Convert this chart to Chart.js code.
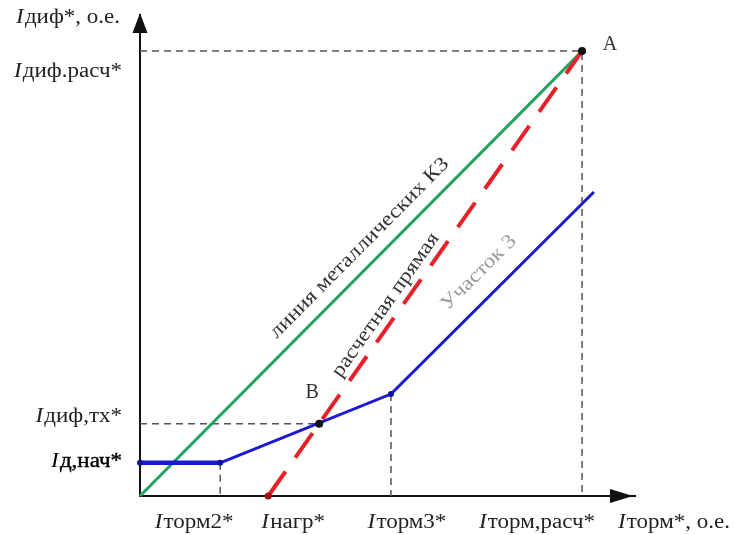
<!DOCTYPE html>
<html>
<head>
<meta charset="utf-8">
<script src="https://cdn.jsdelivr.net/npm/chart.js@4"></script>
<style>
  html, body { margin: 0; padding: 0; background: #fff; }
  #wrap { width: 733px; height: 535px; }
</style>
</head>
<body>
<div id="wrap"><canvas id="chart" width="733" height="535"></canvas></div>
<script>
// значения в о.е. (оси 0..10)
const xTickValues = [1.62, 2.59, 5.07, 8.93];
const xTickLabels = ['Iторм2*', 'Iнагр*', 'Iторм3*', 'Iторм,расч*'];
const yTickValues = [9.25, 1.50, 0.69];
const yTickLabels = ['Iдиф.расч*', 'Iдиф,тх*', 'Iд,нач*'];
const xAxisTitle = 'Iторм*, о.е.';
const yAxisTitle = 'Iдиф*, о.е.';

const pointA = [8.93, 9.25];
const pointB = [3.62, 1.50];

const kzX = [0, 8.93];            // линия металлических КЗ
const kzY = [0, 9.25];
const calcX = [2.59, 8.93];       // расчетная прямая
const calcY = [0, 9.25];
const charX = [0, 1.62, 5.07, 9.17];  // характеристика срабатывания
const charY = [0.69, 0.69, 2.12, 6.32];

const SERIF = "'Liberation Serif', 'Times New Roman', serif";
const FS = 20;
const STRETCH = 1.15;   // шрифт в оригинале чуть растянут по ширине

const xy = (xs, ys) => xs.map((x, i) => ({ x: x, y: ys[i] }));

function dashed(points) {
    return {
        data: points, showLine: true, borderColor: '#555', borderWidth: 1.5,
        borderDash: [7, 5], pointRadius: 0, clip: false, order: 10
    };
}

// подпись с курсивной первой буквой "I"
function drawLabel(ctx, text, x, y, align, size, color, heavy) {
    const it = 'italic ' + size + 'px ' + SERIF;
    const rg = size + 'px ' + SERIF;
    ctx.font = it;
    const w1 = ctx.measureText(text[0]).width;
    ctx.font = rg;
    const w2 = ctx.measureText(text.slice(1)).width;
    const w = (w1 + w2 + 1) * STRETCH;
    let x0 = x;
    if (align === 'center') x0 = x - w / 2;
    if (align === 'right') x0 = x - w;
    ctx.save();
    ctx.translate(x0, y);
    ctx.scale(STRETCH, 1);
    ctx.fillStyle = color || '#222';
    ctx.strokeStyle = color || '#222';
    ctx.lineWidth = 0.4;
    ctx.textAlign = 'left';
    ctx.textBaseline = 'middle';
    ctx.font = it;
    ctx.fillText(text[0], 0, 0);
    ctx.font = rg;
    ctx.fillText(text.slice(1), w1 + 1, 0);
    if (heavy) ctx.strokeText(text.slice(1), w1 + 1, 0);
    ctx.restore();
}

function drawAlong(c, text, xs, ys, t, off, color, size) {
    const ctx = c.ctx;
    const sx = c.scales.x, sy = c.scales.y;
    const x1 = sx.getPixelForValue(xs[0]), y1 = sy.getPixelForValue(ys[0]);
    const x2 = sx.getPixelForValue(xs[xs.length - 1]), y2 = sy.getPixelForValue(ys[ys.length - 1]);
    const ang = Math.atan2(y2 - y1, x2 - x1);
    ctx.save();
    ctx.translate(x1 + (x2 - x1) * t, y1 + (y2 - y1) * t);
    ctx.rotate(ang);
    ctx.translate(0, -off);
    ctx.scale(STRETCH, 1);
    ctx.font = size + 'px ' + SERIF;
    ctx.fillStyle = color;
    ctx.textAlign = 'center';
    ctx.textBaseline = 'middle';
    ctx.fillText(text, 0, 0);
    ctx.restore();
}

const labelsPlugin = {
    id: 'labels',
    afterDraw(c) {
        const ctx = c.ctx;
        const sx = c.scales.x, sy = c.scales.y;
        const area = c.chartArea;
        ctx.save();

        // стрелки осей
        ctx.fillStyle = '#111';
        ctx.beginPath();
        ctx.moveTo(area.left, area.top - 2);
        ctx.lineTo(area.left - 7.5, area.top + 18);
        ctx.lineTo(area.left + 7.5, area.top + 18);
        ctx.closePath();
        ctx.fill();
        ctx.beginPath();
        ctx.moveTo(area.right - 2, area.bottom);
        ctx.lineTo(area.right - 25, area.bottom - 7);
        ctx.lineTo(area.right - 25, area.bottom + 7);
        ctx.closePath();
        ctx.fill();

        // подписи по оси X
        const xShift = [-26, 25, 16, -45];
        xTickValues.forEach((v, i) => {
            drawLabel(ctx, xTickLabels[i], sx.getPixelForValue(v) + xShift[i], area.bottom + 27, 'center', FS);
        });
        drawLabel(ctx, xAxisTitle, area.right - 17, area.bottom + 27, 'left', FS);

        // подписи по оси Y
        const yShift = [21, -7, -1];
        yTickValues.forEach((v, i) => {
            const last = i === yTickValues.length - 1;
            drawLabel(ctx, yTickLabels[i], area.left - 18, sy.getPixelForValue(v) + yShift[i], 'right',
                FS, last ? '#000' : '#222', last);
        });
        drawLabel(ctx, yAxisTitle, area.left - 20, area.top + 3, 'right', FS);

        // точки A и B
        ctx.font = FS + 'px ' + SERIF;
        ctx.fillStyle = '#333';
        ctx.textAlign = 'center';
        ctx.textBaseline = 'middle';
        ctx.fillText('A', sx.getPixelForValue(pointA[0]) + 28, sy.getPixelForValue(pointA[1]) - 6);
        ctx.fillText('B', sx.getPixelForValue(pointB[0]) - 7, sy.getPixelForValue(pointB[1]) - 31);

        // наклонные надписи
        drawAlong(c, 'линия металлических КЗ', kzX, kzY, 0.527, 19, '#333', FS);
        drawAlong(c, 'расчетная прямая', calcX, calcY, 0.411, 14, '#333', FS);
        drawAlong(c, 'Участок 3', charX.slice(2), charY.slice(2), 0.516, 24, '#999', FS);

        ctx.restore();
    }
};

const chart = new Chart(document.getElementById('chart').getContext('2d'), {
    type: 'scatter',
    data: {
        datasets: [
            // точки
            { data: [{ x: pointA[0], y: pointA[1] }, { x: pointB[0], y: pointB[1] }],
              pointRadius: 4, pointBackgroundColor: '#111', pointBorderWidth: 0, clip: false, order: 0 },
            { data: xy(charX.slice(0, 3), charY.slice(0, 3)),
              pointRadius: 3, pointBackgroundColor: '#1010a0', pointBorderWidth: 0, clip: false, order: 0 },
            { data: [{ x: calcX[0], y: calcY[0] }],
              pointRadius: 3.5, pointBackgroundColor: '#a01010', pointBorderWidth: 0, clip: false, order: 0 },
            // линии
            { data: xy(charX, charY), showLine: true, borderColor: '#1a1ad0', borderWidth: 3,
              segment: { borderWidth: s => s.p0DataIndex === 0 ? 4.5 : 3 },
              pointRadius: 0, clip: false, order: 2 },
            { data: xy(calcX, calcY), showLine: true, borderColor: '#e8202a', borderWidth: 4,
              borderDash: [30, 17], pointRadius: 0, clip: false, order: 3 },
            { data: xy(kzX, kzY), showLine: true, borderColor: '#22a35e', borderWidth: 3,
              pointRadius: 0, clip: false, order: 4 },
            // вспомогательные пунктиры
            dashed([{ x: 0, y: pointA[1] }, { x: pointA[0], y: pointA[1] }, { x: pointA[0], y: 0 }]),
            dashed([{ x: 0, y: pointB[1] }, { x: pointB[0], y: pointB[1] }]),
            dashed([{ x: xTickValues[0], y: charY[1] }, { x: xTickValues[0], y: 0 }]),
            dashed([{ x: xTickValues[2], y: charY[2] }, { x: xTickValues[2], y: 0 }])
        ]
    },
    options: {
        responsive: false,
        animation: false,
        events: [],
        layout: { padding: { top: 15, right: 98, left: 0, bottom: 0 } },
        plugins: { legend: { display: false }, tooltip: { enabled: false } },
        scales: {
            x: {
                type: 'linear', min: 0, max: 10,
                grid: { display: false, drawTicks: false },
                border: { display: true, color: '#111', width: 2 },
                ticks: { display: false },
                afterFit: s => { s.height = 39; }
            },
            y: {
                type: 'linear', min: 0, max: 10,
                grid: { display: false, drawTicks: false },
                border: { display: true, color: '#111', width: 2 },
                ticks: { display: false },
                afterFit: s => { s.width = 140; }
            }
        }
    },
    plugins: [labelsPlugin]
});
</script>
</body>
</html>
